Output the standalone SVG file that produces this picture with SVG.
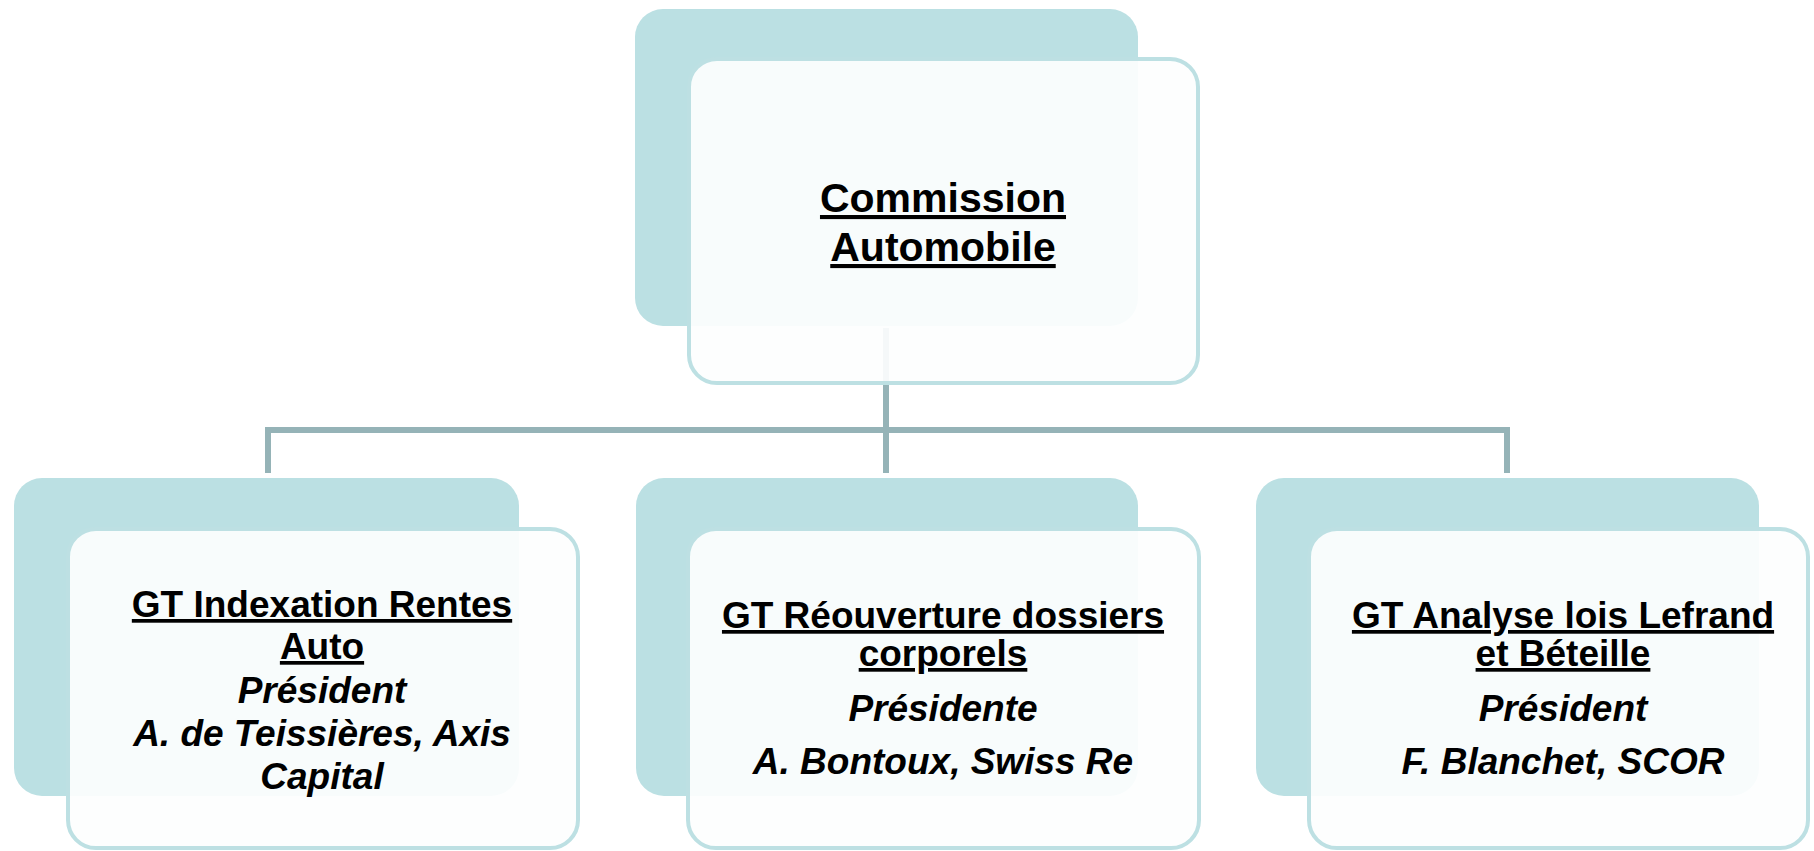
<svg xmlns="http://www.w3.org/2000/svg" width="1814" height="851" viewBox="0 0 1814 851">
<style>
.back{fill:#bbe0e3;}
.front{fill:#fdfefe;fill-opacity:0.92;stroke:#bde0e3;stroke-width:4;}
.conn{fill:none;stroke:#95b3b7;stroke-width:6;}
text{font-family:"Liberation Sans",Arial,sans-serif;fill:#000;text-anchor:middle;}
.t{font-weight:bold;text-decoration:underline;}
.top{font-size:41px;}
.s{font-size:37px;}
.i{font-weight:bold;font-style:italic;}
</style>
<rect width="1814" height="851" fill="#fff"/>
<g id="connectors">
<path class="conn" d="M268,473 V430 H1507 V473"/>
<path class="conn" d="M886,328 V473"/>
</g>
<g id="node-commission">
<rect class="back" x="635" y="9" width="503" height="317" rx="28"/>
<rect class="front" x="689" y="59" width="509" height="324" rx="28"/>
<text class="t top" x="943" y="212">Commission</text>
<text class="t top" x="943" y="261">Automobile</text>
</g>
<g id="node-indexation">
<rect class="back" x="14" y="478" width="505" height="318" rx="28"/>
<rect class="front" x="68" y="529" width="510" height="319" rx="28"/>
<text class="t s" x="322" y="617">GT Indexation Rentes</text>
<text class="t s" x="322" y="659">Auto</text>
<text class="i s" x="322" y="703">Président</text>
<text class="i s" x="322" y="746">A. de Teissières, Axis</text>
<text class="i s" x="322" y="789">Capital</text>
</g>
<g id="node-reouverture">
<rect class="back" x="636" y="478" width="502" height="318" rx="28"/>
<rect class="front" x="688" y="529" width="511" height="319" rx="28"/>
<text class="t s" x="943" y="628">GT Réouverture dossiers</text>
<text class="t s" x="943" y="666">corporels</text>
<text class="i s" x="943" y="721">Présidente</text>
<text class="i s" x="943" y="774">A. Bontoux, Swiss Re</text>
</g>
<g id="node-analyse">
<rect class="back" x="1256" y="478" width="503" height="318" rx="28"/>
<rect class="front" x="1309" y="529" width="499" height="319" rx="28"/>
<text class="t s" x="1563" y="628">GT Analyse lois Lefrand</text>
<text class="t s" x="1563" y="666">et Béteille</text>
<text class="i s" x="1563" y="721">Président</text>
<text class="i s" x="1563" y="774">F. Blanchet, SCOR</text>
</g>
</svg>
